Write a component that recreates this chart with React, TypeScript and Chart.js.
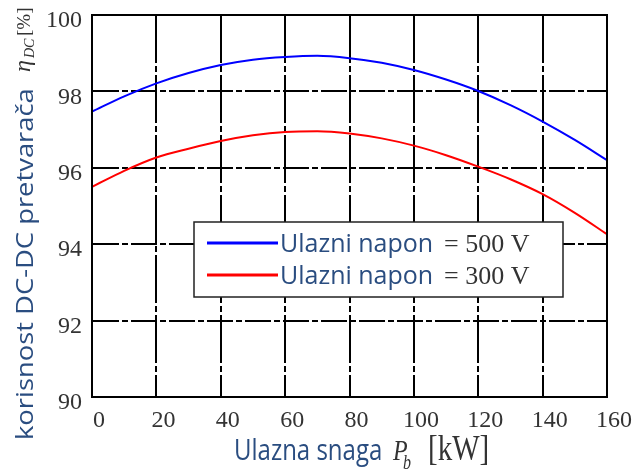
import React, { useEffect, useRef } from "react";
import { Chart, registerables } from "chart.js";

Chart.register(...registerables);

// ---- data ----
const powerKW = [0, 10, 20, 30, 40, 50, 60, 70, 80, 90, 100, 110, 120, 130, 140, 150, 160];
const eff500V = [97.47, 97.87, 98.21, 98.48, 98.69, 98.83, 98.9, 98.93, 98.87, 98.75, 98.56, 98.31, 98.01, 97.64, 97.21, 96.73, 96.2];
const eff300V = [95.5, 95.92, 96.27, 96.5, 96.7, 96.85, 96.94, 96.96, 96.9, 96.77, 96.58, 96.33, 96.03, 95.7, 95.31, 94.82, 94.26];
const xTickValues = [0, 20, 40, 60, 80, 100, 120, 140, 160];
const yTickValues = [90, 92, 94, 96, 98, 100];
const seriesNames = ["Ulazni napon", "Ulazni napon"];
const seriesVoltages = ["= 500 V", "= 300 V"];
const seriesColors = ["#0000ff", "#ff0000"];
const yTitleText = "korisnost DC-DC pretvarača";
const yTitleSymbol = "η";
const yTitleSub = "DC";
const yTitleUnit = "[%]";
const xTitleText = "Ulazna snaga";
const xTitleSymbol = "P";
const xTitleSub = "b";
const xTitleUnit = "[kW]";

const SANS = "'Open Sans', Lato, sans-serif";
const SERIF = "'Liberation Serif', 'DejaVu Serif', serif";
const TITLE_COLOR = "#2a4d80";
const NUM_COLOR = "#333333";

const framePlugin = {
  id: "frameAndLegend",
  afterDatasetsDraw(chart: any) {
    const { ctx, chartArea } = chart;
    const { left, top, right, bottom } = chartArea;
    ctx.save();
    ctx.strokeStyle = "#000";
    ctx.lineWidth = 2;
    ctx.strokeRect(left, top, right - left, bottom - top);

    // legend box
    const bx = left + 102;
    const by = top + 207;
    const bw = 369;
    const bh = 75;
    ctx.fillStyle = "#fff";
    ctx.fillRect(bx, by, bw, bh);
    ctx.strokeStyle = "#222";
    ctx.lineWidth = 1.5;
    ctx.strokeRect(bx, by, bw, bh);
    const rows = [21, 53];
    for (let i = 0; i < 2; i++) {
      const y = by + rows[i];
      ctx.strokeStyle = seriesColors[i];
      ctx.lineWidth = 3;
      ctx.beginPath();
      ctx.moveTo(bx + 13, y);
      ctx.lineTo(bx + 84, y);
      ctx.stroke();
      ctx.textBaseline = "alphabetic";
      ctx.textAlign = "left";
      ctx.fillStyle = TITLE_COLOR;
      ctx.font = `25px ${SANS}`;
      ctx.fillText(seriesNames[i], bx + 86, y + 9);
      ctx.fillStyle = NUM_COLOR;
      ctx.font = `26px ${SERIF}`;
      ctx.fillText(seriesVoltages[i], bx + 250, y + 9);
    }

    // y title (rotated)
    ctx.save();
    ctx.translate(33, 440);
    ctx.rotate(-Math.PI / 2);
    ctx.textBaseline = "alphabetic";
    ctx.textAlign = "left";
    ctx.fillStyle = TITLE_COLOR;
    ctx.font = `24px ${SANS}`;
    ctx.save();
    ctx.scale(1.14, 1);
    ctx.fillText(yTitleText, 0, 0);
    ctx.restore();
    ctx.fillStyle = NUM_COLOR;
    ctx.font = `italic 24px ${SERIF}`;
    ctx.fillText(yTitleSymbol, 368, -3);
    ctx.font = `italic 14px ${SERIF}`;
    ctx.fillText(yTitleSub, 382, 1);
    ctx.font = `19px ${SERIF}`;
    ctx.fillText(yTitleUnit, 404, -3);
    ctx.restore();

    // x title
    ctx.save();
    ctx.textBaseline = "alphabetic";
    ctx.textAlign = "left";
    ctx.translate(0, 460);
    ctx.scale(1, 1.25);
    ctx.fillStyle = TITLE_COLOR;
    ctx.font = `24px ${SANS}`;
    ctx.fillText(xTitleText, 234, 0);
    ctx.fillStyle = NUM_COLOR;
    ctx.font = `italic 24px ${SERIF}`;
    ctx.fillText(xTitleSymbol, 393, 0);
    ctx.font = `italic 16px ${SERIF}`;
    ctx.fillText(xTitleSub, 403, 7);
    ctx.font = `29px ${SERIF}`;
    ctx.fillText(xTitleUnit, 428, 0);
    ctx.restore();
    ctx.restore();
  },
};

export default function App() {
  const ref = useRef<HTMLCanvasElement | null>(null);
  useEffect(() => {
    if (!ref.current) return;
    const chart = new Chart(ref.current, {
      type: "line",
      data: {
        labels: powerKW,
        datasets: [
          {
            label: `${seriesNames[0]} ${seriesVoltages[0]}`,
            data: powerKW.map((x, i) => ({ x, y: eff500V[i] })),
            borderColor: seriesColors[0],
            borderWidth: 2,
            pointRadius: 0,
            cubicInterpolationMode: "monotone",
          },
          {
            label: `${seriesNames[1]} ${seriesVoltages[1]}`,
            data: powerKW.map((x, i) => ({ x, y: eff300V[i] })),
            borderColor: seriesColors[1],
            borderWidth: 2,
            pointRadius: 0,
            cubicInterpolationMode: "monotone",
          },
        ],
      },
      options: {
        responsive: true,
        maintainAspectRatio: false,
        animation: false,
        layout: { padding: { top: 15, right: 33, left: 0, bottom: 0 } },
        plugins: { legend: { display: false }, tooltip: { enabled: false }, title: { display: false } },
        scales: {
          x: {
            type: "linear",
            min: 0,
            max: 160,
            afterBuildTicks: (s: any) => {
              s.ticks = xTickValues.map((v) => ({ value: v }));
            },
            afterFit: (s: any) => {
              s.height = 75;
              s.paddingLeft = 0;
              s.paddingRight = 0;
            },
            ticks: {
              font: { family: SERIF, size: 24 },
              color: NUM_COLOR,
              padding: 9,
              labelOffset: 7,
              maxRotation: 0,
              autoSkip: false,
            },
            grid: { color: "#000", lineWidth: 2, drawTicks: false },
            border: { color: "#000", width: 2, dash: [48, 3, 6, 3] },
          },
          y: {
            type: "linear",
            min: 90,
            max: 100,
            afterBuildTicks: (s: any) => {
              s.ticks = yTickValues.map((v) => ({ value: v }));
            },
            afterFit: (s: any) => {
              s.width = 92;
              s.paddingTop = 0;
              s.paddingBottom = 0;
            },
            ticks: {
              font: { family: SERIF, size: 24 },
              color: NUM_COLOR,
              padding: 10,
              labelOffset: 6,
            },
            grid: { color: "#000", lineWidth: 2, drawTicks: false },
            border: { color: "#000", width: 2, dash: [26, 3, 6, 3] },
          },
        },
      },
      plugins: [framePlugin],
    } as any);
    return () => chart.destroy();
  }, []);
  return (
    <div style={{ position: "fixed", left: 0, top: 0, width: 640, height: 472, background: "#fff" }}>
      <canvas ref={ref} />
    </div>
  );
}
